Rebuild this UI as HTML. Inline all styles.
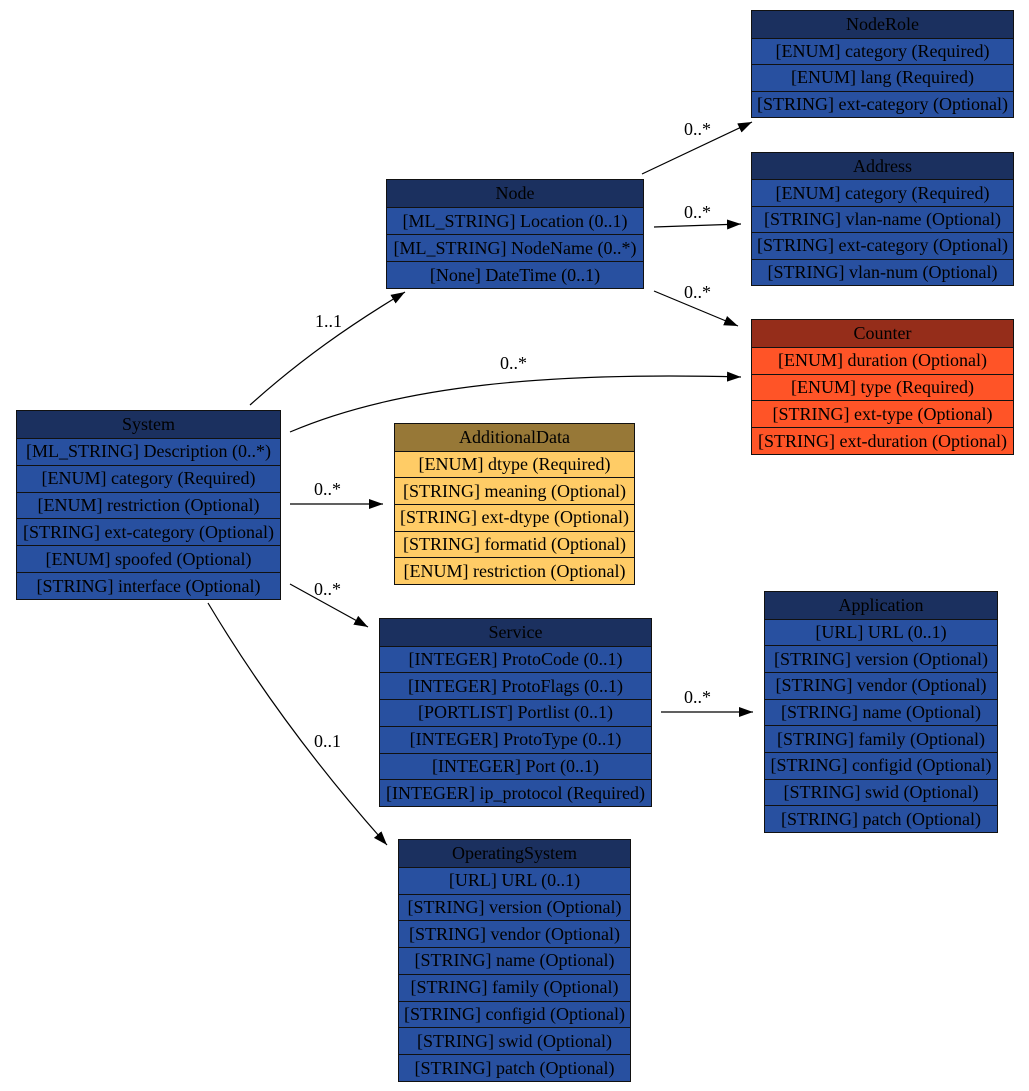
<!DOCTYPE html>
<html><head><meta charset="utf-8"><style>
body{margin:0;width:1029px;height:1091px;background:#fff;position:relative;font-family:"Liberation Serif",serif;font-size:18px;overflow:hidden}
.t{position:absolute;border:1px solid #111;box-sizing:border-box}
.t div{box-sizing:border-box;border-top:1px solid #111;text-align:center;color:#000;white-space:nowrap;display:flex;align-items:center;justify-content:center;overflow:visible}
.t div:first-child{border-top:none}
.b .h{background:#1b305f}.b div{background:#2850a0}
.r .h{background:#952d1a}.r div{background:#ff5427}
.y .h{background:#977837}.y div{background:#ffcc66}
svg{position:absolute;left:0;top:0}
</style></head><body>
<svg width="1029" height="1091">
<defs><marker id="a" markerUnits="userSpaceOnUse" markerWidth="16" markerHeight="12" refX="14" refY="5" orient="auto"><path d="M0,0 L14,5 L0,10 z" fill="#000"/></marker></defs>
<g fill="none" stroke="#000" stroke-width="1.2" marker-end="url(#a)">
<path d="M250,405 C300,360 350,325 405,292"/>
<path d="M642,174 L752,122"/>
<path d="M654,227 L741,224"/>
<path d="M654,291 L738,326"/>
<path d="M290,432 C400,385 550,372 741,377"/>
<path d="M290,504 L383,504"/>
<path d="M290,584 L368,627"/>
<path d="M208,603 C260,690 320,770 387,845"/>
<path d="M661,712 L753,712"/>
</g>
<g font-family="Liberation Serif,serif" font-size="18" fill="#000">
<text x="315" y="327">1..1</text>
<text x="684" y="135">0..*</text>
<text x="684" y="218">0..*</text>
<text x="684" y="298">0..*</text>
<text x="500" y="369">0..*</text>
<text x="314" y="495">0..*</text>
<text x="314" y="595">0..*</text>
<text x="314" y="747">0..1</text>
<text x="684" y="703">0..*</text>
</g>
</svg>
<div class="t b" style="left:751px;top:10px;width:263px;height:108px;display:grid;grid-template-rows:repeat(4,1fr)"><div class="h">NodeRole</div><div>[ENUM] category (Required)</div><div>[ENUM] lang (Required)</div><div>[STRING] ext-category (Optional)</div></div>
<div class="t b" style="left:751px;top:152px;width:263px;height:134px;display:grid;grid-template-rows:repeat(5,1fr)"><div class="h">Address</div><div>[ENUM] category (Required)</div><div>[STRING] vlan-name (Optional)</div><div>[STRING] ext-category (Optional)</div><div>[STRING] vlan-num (Optional)</div></div>
<div class="t r" style="left:751px;top:319px;width:263px;height:136px;display:grid;grid-template-rows:repeat(5,1fr)"><div class="h">Counter</div><div>[ENUM] duration (Optional)</div><div>[ENUM] type (Required)</div><div>[STRING] ext-type (Optional)</div><div>[STRING] ext-duration (Optional)</div></div>
<div class="t b" style="left:386px;top:179px;width:258px;height:110px;display:grid;grid-template-rows:repeat(4,1fr)"><div class="h">Node</div><div>[ML_STRING] Location (0..1)</div><div>[ML_STRING] NodeName (0..*)</div><div>[None] DateTime (0..1)</div></div>
<div class="t b" style="left:16px;top:410px;width:265px;height:190px;display:grid;grid-template-rows:repeat(7,1fr)"><div class="h">System</div><div>[ML_STRING] Description (0..*)</div><div>[ENUM] category (Required)</div><div>[ENUM] restriction (Optional)</div><div>[STRING] ext-category (Optional)</div><div>[ENUM] spoofed (Optional)</div><div>[STRING] interface (Optional)</div></div>
<div class="t y" style="left:394px;top:423px;width:241px;height:162px;display:grid;grid-template-rows:repeat(6,1fr)"><div class="h">AdditionalData</div><div>[ENUM] dtype (Required)</div><div>[STRING] meaning (Optional)</div><div>[STRING] ext-dtype (Optional)</div><div>[STRING] formatid (Optional)</div><div>[ENUM] restriction (Optional)</div></div>
<div class="t b" style="left:379px;top:618px;width:273px;height:189px;display:grid;grid-template-rows:repeat(7,1fr)"><div class="h">Service</div><div>[INTEGER] ProtoCode (0..1)</div><div>[INTEGER] ProtoFlags (0..1)</div><div>[PORTLIST] Portlist (0..1)</div><div>[INTEGER] ProtoType (0..1)</div><div>[INTEGER] Port (0..1)</div><div>[INTEGER] ip_protocol (Required)</div></div>
<div class="t b" style="left:764px;top:591px;width:234px;height:242px;display:grid;grid-template-rows:repeat(9,1fr)"><div class="h">Application</div><div>[URL] URL (0..1)</div><div>[STRING] version (Optional)</div><div>[STRING] vendor (Optional)</div><div>[STRING] name (Optional)</div><div>[STRING] family (Optional)</div><div>[STRING] configid (Optional)</div><div>[STRING] swid (Optional)</div><div>[STRING] patch (Optional)</div></div>
<div class="t b" style="left:398px;top:839px;width:233px;height:243px;display:grid;grid-template-rows:repeat(9,1fr)"><div class="h">OperatingSystem</div><div>[URL] URL (0..1)</div><div>[STRING] version (Optional)</div><div>[STRING] vendor (Optional)</div><div>[STRING] name (Optional)</div><div>[STRING] family (Optional)</div><div>[STRING] configid (Optional)</div><div>[STRING] swid (Optional)</div><div>[STRING] patch (Optional)</div></div>
</body></html>
